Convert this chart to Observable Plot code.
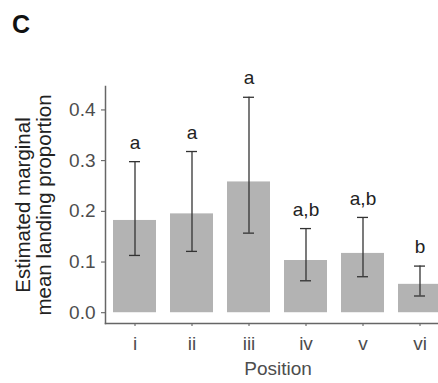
<!DOCTYPE html>
<html>
<head>
<meta charset="utf-8">
<script src="https://cdn.jsdelivr.net/npm/d3@7"></script>
<script src="https://cdn.jsdelivr.net/npm/@observablehq/plot@0.6"></script>
<style>
  html, body { margin: 0; padding: 0; background: #fff; overflow: hidden; }
  #wrap { position: relative; width: 438px; height: 383px; }
  #panel { position: absolute; left: 12px; top: 12px; font: bold 25px "Liberation Sans", Arial, sans-serif; line-height: 1; color: #111; }
</style>
</head>
<body>
<div id="wrap"><div id="panel">C</div></div>
<script>
const positions = ["i", "ii", "iii", "iv", "v", "vi"];
const means = [0.182, 0.195, 0.258, 0.103, 0.117, 0.056];
const lower = [0.113, 0.121, 0.157, 0.063, 0.071, 0.033];
const upper = [0.298, 0.318, 0.425, 0.166, 0.188, 0.092];
const letters = ["a", "a", "a", "a,b", "a,b", "b"];
const yTicks = [0, 0.1, 0.2, 0.3, 0.4];

const data = positions.map((p, i) => ({position: p, mean: means[i], lower: lower[i], upper: upper[i], letter: letters[i]}));
const yMax = d3.max(upper);
const pad = yMax * 0.05;

const chart = Plot.plot({
  width: 438,
  height: 383,
  marginTop: 86,
  marginBottom: 60,
  marginLeft: 105,
  marginRight: -12,
  style: {fontFamily: "Liberation Sans, Arial, sans-serif", fontSize: "19px", color: "#222", background: "transparent"},
  x: {domain: positions, paddingInner: 0.24, paddingOuter: 0.12},
  y: {domain: [-pad, yMax + pad]},
  marks: [
    Plot.barY(data, {x: "position", y: "mean", fill: "#b3b3b3"}),
    Plot.ruleX(data, {x: "position", y1: "lower", y2: "upper", stroke: "#333", strokeWidth: 1.3}),
    Plot.tickY(data, {x: "position", y: "lower", stroke: "#333", strokeWidth: 1.3, insetLeft: 16, insetRight: 16}),
    Plot.tickY(data, {x: "position", y: "upper", stroke: "#333", strokeWidth: 1.3, insetLeft: 16, insetRight: 16}),
    Plot.text(data, {x: "position", y: "upper", text: "letter", dy: -19, fill: "#222", fontSize: 19}),
    Plot.axisY({ticks: yTicks, tickFormat: d3.format(".1f"), tickSize: 4, tickPadding: 6, stroke: "#555", fill: "#4d4d4d", label: null}),
    Plot.axisY({ticks: [], tickSize: 0, fill: "#222", fontSize: 20.5, lineHeight: 1.07,
      label: "Estimated marginal\nmean landing proportion", labelAnchor: "center", labelArrow: "none", labelOffset: 90}),
    Plot.axisX({tickSize: 3, tickPadding: 10, stroke: "#555", fill: "#4d4d4d",
      label: "Position", labelAnchor: "center", labelArrow: "none", labelOffset: 51}),
    Plot.frame({anchor: "left", stroke: "#666", strokeWidth: 1.5}),
    Plot.frame({anchor: "bottom", stroke: "#666", strokeWidth: 1.5})
  ]
});
document.getElementById("wrap").appendChild(chart);
</script>
</body>
</html>
